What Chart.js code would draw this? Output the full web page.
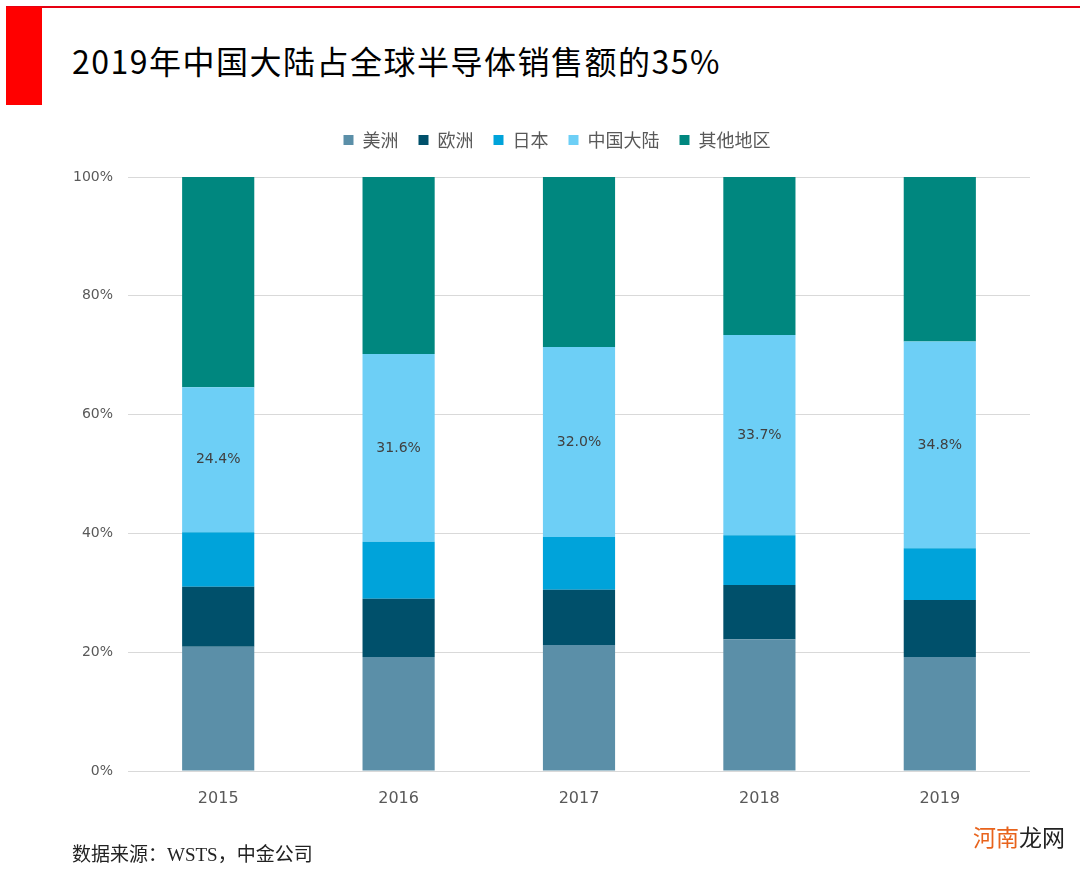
<!DOCTYPE html>
<html>
<head>
<meta charset="utf-8">
<script src="https://cdn.jsdelivr.net/npm/chart.js@4"></script>
<style>
  html, body { margin: 0; padding: 0; background: #fff; }
  #page { position: relative; width: 1080px; height: 870px; overflow: hidden; font-family: "Noto Sans CJK SC", sans-serif; }
  #topline { position: absolute; left: 6px; top: 6px; width: 1074px; height: 2px; background: #e60012; }
  #redbar { position: absolute; left: 6px; top: 7px; width: 36px; height: 98px; background: #ff0000; }
  #title { position: absolute; left: 72px; top: 37px; font-size: 32px; color: #000; letter-spacing: 1.5px; white-space: nowrap; }
  #chartBox { position: absolute; left: 0; top: 0; width: 1080px; height: 870px; }
  #source { position: absolute; left: 72px; top: 839px; font-size: 19px; color: #222; white-space: nowrap; font-family: "Liberation Serif", "Noto Sans CJK SC", serif; }
  #mark { position: absolute; left: 973px; top: 819px; font-size: 23px; white-space: nowrap; }
  #mark .a { color: #e8631c; }
  #mark .b { color: #222; }
</style>
</head>
<body>
<div id="page">
  <div id="topline"></div>
  <div id="redbar"></div>
  <div id="title">2019年中国大陆占全球半导体销售额的35%</div>
  <div id="chartBox"><canvas id="chart" width="1080" height="870"></canvas></div>
  <div id="source">数据来源：WSTS，中金公司</div>
  <div id="mark"><span class="a">河南</span><span class="b">龙网</span></div>
</div>
<script>
// --- Data ---
const years = ['2015', '2016', '2017', '2018', '2019'];
const seriesNames = ['美洲', '欧洲', '日本', '中国大陆', '其他地区'];
const americas = [20.9, 19.2, 21.2, 22.2, 19.2];
const europe   = [10.1, 9.8, 9.3, 9.1, 9.6];
const japan    = [9.2, 9.6, 8.9, 8.4, 8.7];
const china    = [24.4, 31.6, 32.0, 33.7, 34.8];
const others   = [35.4, 29.8, 28.6, 26.6, 27.7];
const yTicks   = [0, 20, 40, 60, 80, 100];

const colors = ['#5b8fa8', '#00506b', '#00a3da', '#6dcff6', '#00877f'];
const allValues = [americas, europe, japan, china, others];

// --- Label di tengah segmen 中国大陆 ---
const segmentLabels = {
    id: 'segmentLabels',
    afterDatasetsDraw(chart) {
        const meta = chart.getDatasetMeta(3);
        const c = chart.ctx;
        c.save();
        c.font = '14px "DejaVu Sans", sans-serif';
        c.fillStyle = '#404040';
        c.textAlign = 'center';
        c.textBaseline = 'middle';
        meta.data.forEach((bar, i) => {
            c.fillText(china[i].toFixed(1) + '%', bar.x, (bar.y + bar.base) / 2);
        });
        c.restore();
    }
};

// jarak legend ke area chart, dan geser legend ke tengah area plot
const legendGap = {
    id: 'legendGap',
    beforeInit(chart) {
        const lg = chart.legend;
        const origFit = lg.fit;
        lg.fit = function () {
            origFit.bind(lg)();
            this.height += 21;
        };
        const origDraw = lg.draw;
        lg.draw = function () {
            chart.ctx.save();
            chart.ctx.translate(42, 3);
            origDraw.bind(lg)();
            chart.ctx.restore();
        };
    }
};

const ctx = document.getElementById('chart').getContext('2d');
new Chart(ctx, {
    type: 'bar',
    data: {
        labels: years,
        datasets: seriesNames.map((name, k) => ({
            label: name,
            data: allValues[k],
            backgroundColor: colors[k],
            borderWidth: 0,
            barPercentage: 0.8,
            categoryPercentage: 0.5
        }))
    },
    options: {
        responsive: false,
        animation: false,
        layout: { padding: { top: 108, right: 50, bottom: 49, left: 0 } },
        scales: {
            x: {
                stacked: true,
                grid: { display: false },
                border: { display: false },
                ticks: { color: '#595959', font: { size: 16, family: '"DejaVu Sans", sans-serif' }, padding: 10 },
                afterFit(s) { s.height = 50; }
            },
            y: {
                stacked: true,
                min: 0, max: 100,
                afterBuildTicks(s) { s.ticks = yTicks.map(v => ({ value: v })); },
                grid: { color: '#d9d9d9', lineWidth: 1, drawTicks: false },
                border: { display: false },
                ticks: { color: '#595959', font: { size: 14, family: '"DejaVu Sans", sans-serif' }, padding: 15, callback: v => v + '%' },
                afterFit(s) { s.width = 128; }
            }
        },
        plugins: {
            legend: {
                position: 'top',
                labels: {
                    boxWidth: 10, boxHeight: 10, padding: 20,
                    color: '#595959',
                    font: { size: 18, family: '"Noto Sans CJK SC", sans-serif' }
                }
            },
            tooltip: { enabled: false }
        }
    },
    plugins: [segmentLabels, legendGap]
});
</script>
</body>
</html>
